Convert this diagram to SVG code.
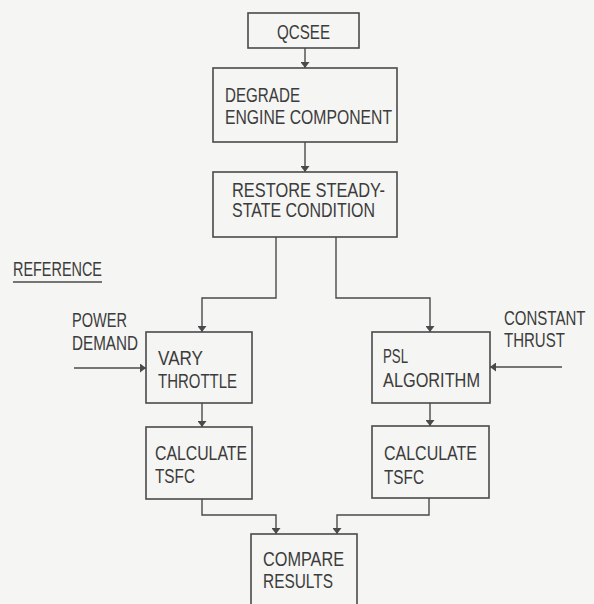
<svg xmlns="http://www.w3.org/2000/svg" width="594" height="604" viewBox="0 0 594 604">
  <defs>
    <marker id="arrow" viewBox="0 0 10 10" refX="10" refY="5" markerWidth="6" markerHeight="9" markerUnits="userSpaceOnUse" orient="auto" preserveAspectRatio="none">
      <path d="M0,0 L10,5 L0,10 Z" fill="#4a4a4a"/>
    </marker>
    <style>
      .box { fill: none; stroke: #4a4a4a; stroke-width: 1.6; }
      .wire { fill: none; stroke: #4a4a4a; stroke-width: 1.4; }
      .lbl { font-family: "Liberation Sans", Arial, sans-serif; font-size: 19.5px; fill: #3c3c3c; }
    </style>
  </defs>

  <rect x="0" y="0" width="594" height="604" fill="#f5f5f3"/>

  <!-- connectors -->
  <g id="connectors">
    <path class="wire" d="M305,48 V68" marker-end="url(#arrow)"/>
    <path class="wire" d="M305,142 V172" marker-end="url(#arrow)"/>
    <path class="wire" d="M276,237 V298 H202 V332" marker-end="url(#arrow)"/>
    <path class="wire" d="M336,237 V298 H430 V332" marker-end="url(#arrow)"/>
    <path class="wire" d="M74,368 H146" marker-end="url(#arrow)"/>
    <path class="wire" d="M562,367 H490" marker-end="url(#arrow)"/>
    <path class="wire" d="M202,403 V427" marker-end="url(#arrow)"/>
    <path class="wire" d="M430,403 V426" marker-end="url(#arrow)"/>
    <path class="wire" d="M202,499 V515 H276 V534" marker-end="url(#arrow)"/>
    <path class="wire" d="M429,498 V515 H337 V534" marker-end="url(#arrow)"/>
  </g>

  <!-- free labels -->
  <g id="reference-label">
    <text class="lbl" x="13" y="276" textLength="89" lengthAdjust="spacingAndGlyphs">REFERENCE</text>
    <line x1="13" y1="282" x2="102" y2="282" stroke="#4a4a4a" stroke-width="1.4"/>
  </g>
  <g id="power-demand">
    <text class="lbl" x="72" y="327" textLength="55" lengthAdjust="spacingAndGlyphs">POWER</text>
    <text class="lbl" x="72" y="350" textLength="66" lengthAdjust="spacingAndGlyphs">DEMAND</text>
  </g>
  <!-- condensed horizontally so it stays inside the right margin -->
  <g id="constant-thrust" transform="translate(504,0) scale(0.77,1)">
    <text class="lbl" x="0" y="325">CONSTANT</text>
    <text class="lbl" x="0" y="347">THRUST</text>
  </g>

  <!-- nodes -->
  <g id="qcsee">
    <rect class="box" x="248" y="13" width="111" height="35"/>
    <text class="lbl" x="277" y="39" textLength="53" lengthAdjust="spacingAndGlyphs">QCSEE</text>
  </g>
  <g id="degrade">
    <rect class="box" x="213" y="68" width="184" height="74"/>
    <text class="lbl" x="225" y="102" textLength="75" lengthAdjust="spacingAndGlyphs">DEGRADE</text>
    <text class="lbl" x="225" y="124" textLength="167" lengthAdjust="spacingAndGlyphs">ENGINE COMPONENT</text>
  </g>
  <g id="restore">
    <rect class="box" x="213" y="172" width="184" height="65"/>
    <text class="lbl" x="232" y="197" textLength="153" lengthAdjust="spacingAndGlyphs">RESTORE STEADY-</text>
    <text class="lbl" x="232" y="217" textLength="143" lengthAdjust="spacingAndGlyphs">STATE CONDITION</text>
  </g>
  <g id="vary-throttle">
    <rect class="box" x="146" y="332" width="106" height="71"/>
    <text class="lbl" x="158" y="365" textLength="45" lengthAdjust="spacingAndGlyphs">VARY</text>
    <text class="lbl" x="158" y="388" textLength="79" lengthAdjust="spacingAndGlyphs">THROTTLE</text>
  </g>
  <g id="psl-algorithm">
    <rect class="box" x="372" y="332" width="118" height="71"/>
    <text class="lbl" x="383" y="363" textLength="25" lengthAdjust="spacingAndGlyphs">PSL</text>
    <text class="lbl" x="383" y="387" textLength="97" lengthAdjust="spacingAndGlyphs">ALGORITHM</text>
  </g>
  <g id="calc-tsfc-left">
    <rect class="box" x="146" y="427" width="106" height="72"/>
    <text class="lbl" x="155" y="460" textLength="92" lengthAdjust="spacingAndGlyphs">CALCULATE</text>
    <text class="lbl" x="155" y="483" textLength="40" lengthAdjust="spacingAndGlyphs">TSFC</text>
  </g>
  <g id="calc-tsfc-right">
    <rect class="box" x="372" y="426" width="117" height="72"/>
    <text class="lbl" x="384" y="460" textLength="93" lengthAdjust="spacingAndGlyphs">CALCULATE</text>
    <text class="lbl" x="384" y="484" textLength="40" lengthAdjust="spacingAndGlyphs">TSFC</text>
  </g>
  <g id="compare-results">
    <rect class="box" x="251" y="534" width="106" height="80"/>
    <text class="lbl" x="263" y="566" textLength="81" lengthAdjust="spacingAndGlyphs">COMPARE</text>
    <text class="lbl" x="263" y="588" textLength="70" lengthAdjust="spacingAndGlyphs">RESULTS</text>
  </g>
</svg>
